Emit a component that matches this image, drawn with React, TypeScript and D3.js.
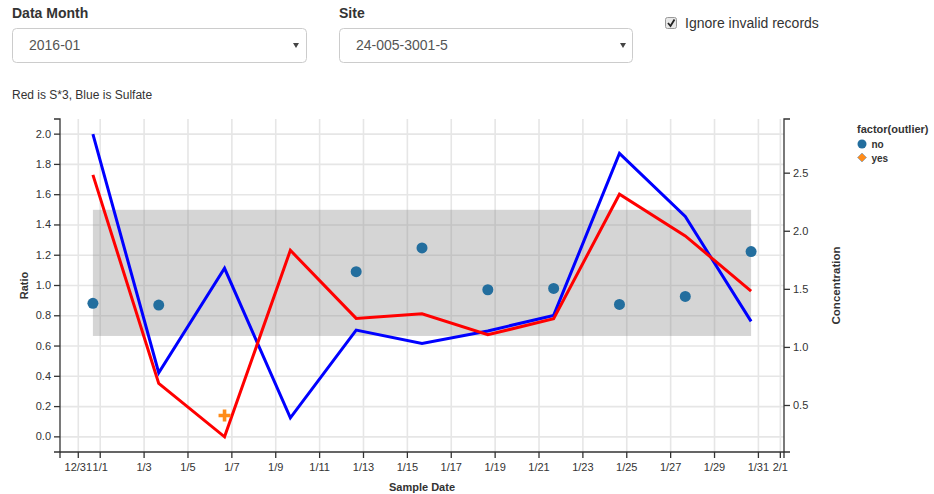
import React from "react";
import * as d3 from "d3";

const sampleDates = [
  "2015-12-31T16:00", "2016-01-03T16:00", "2016-01-06T16:00", "2016-01-09T16:00",
  "2016-01-12T16:00", "2016-01-15T16:00", "2016-01-18T16:00", "2016-01-21T16:00",
  "2016-01-24T16:00", "2016-01-27T16:00", "2016-01-30T16:00",
];
const sulfate = [2.836, 0.782, 1.681, 0.394, 1.149, 1.034, 1.142, 1.276, 2.67, 2.127, 1.224];
const sTimes3 = [2.485, 0.69, 0.23, 1.836, 1.25, 1.29, 1.109, 1.247, 2.319, 1.96, 1.485];
const ratio: (number | null)[] = [0.882, 0.871, 0.141, null, 1.091, 1.248, 0.972, 0.981, 0.875, 0.928, 1.224];
const outlier = ["no", "no", "yes", "no", "no", "no", "no", "no", "no", "no", "no"];
const bandRange = [2 / 3, 1.5];
const ratioDomain = [-0.1, 2.1];
const ratioTicks = [0, 0.2, 0.4, 0.6, 0.8, 1.0, 1.2, 1.4, 1.6, 1.8, 2.0];
const concTicks = [0.5, 1.0, 1.5, 2.0, 2.5];

const W = 934, H = 494;
const L = 60, R = 784, T = 119, B = 452;
const FONT = "'Liberation Sans', Arial, Helvetica, sans-serif";

export default function App() {
  const parse = d3.timeParse("%Y-%m-%dT%H:%M");
  const dates = sampleDates.map((s) => parse(s) as Date);
  const [d0, d1] = d3.extent(dates) as [Date, Date];
  const padX = (d1.getTime() - d0.getTime()) * 0.05;
  const x = d3.scaleTime()
    .domain([new Date(d0.getTime() - padX), new Date(d1.getTime() + padX)])
    .range([L, R]);
  const yL = d3.scaleLinear().domain(ratioDomain).range([B, T]);
  const allConc = [...sulfate, ...sTimes3];
  const cMin = d3.min(allConc)!, cMax = d3.max(allConc)!;
  const cPad = (cMax - cMin) * 0.05;
  const yR = d3.scaleLinear().domain([cMin - cPad, cMax + cPad]).range([B, T]);
  const xTicks = x.ticks(d3.timeDay.every(2)!);
  const fmt = d3.timeFormat("%-m/%-d");

  const line = (vals: number[]) =>
    d3.line<number>().x((_, i) => x(dates[i])).y((v) => yR(v))(vals) || "";

  const textColor = "#333";

  return (
    <svg width={W} height={H} style={{ position: "absolute", left: 0, top: 0, fontFamily: FONT }}>
      <rect width={W} height={H} fill="#fff" />
      {/* header controls */}
      <text x={12} y={17.5} fontSize={14} fontWeight="bold" fill="#333">Data Month</text>
      <rect x={12.5} y={28.5} width={294} height={34} rx={4} fill="#fff" stroke="#ccc" />
      <text x={29} y={50} fontSize={14} fill="#555">2016-01</text>
      <path d="M293,43 L299,43 L296,48 Z" fill="#444" />
      <text x={339} y={17.5} fontSize={14} fontWeight="bold" fill="#333">Site</text>
      <rect x={339.5} y={28.5} width={293} height={34} rx={4} fill="#fff" stroke="#ccc" />
      <text x={356} y={50} fontSize={14} fill="#555">24-005-3001-5</text>
      <path d="M620,43 L626,43 L623,48 Z" fill="#444" />
      <rect x={665.5} y={17.5} width={11} height={11} rx={2} fill="#e8e8e8" stroke="#999" />
      <path d="M668,23 L670.5,26 L674.5,19.5" fill="none" stroke="#222" strokeWidth={1.8} />
      <text x={685} y={27.5} fontSize={14} fill="#333">Ignore invalid records</text>
      <text x={12} y={99} fontSize={12} fill="#333">Red is S*3, Blue is Sulfate</text>

      {/* grid */}
      {ratioTicks.map((t) => (
        <line key={"h" + t} x1={L} x2={R} y1={yL(t)} y2={yL(t)} stroke="#e6e6e6" strokeWidth={1.6} />
      ))}
      {xTicks.map((t) => (
        <line key={"v" + t.getTime()} x1={x(t)} x2={x(t)} y1={T} y2={B} stroke="#e6e6e6" strokeWidth={1.6} />
      ))}

      {/* band */}
      <rect x={x(d0)} width={x(d1) - x(d0)} y={yL(bandRange[1])} height={yL(bandRange[0]) - yL(bandRange[1])}
        fill="#808080" fillOpacity={0.33} />

      {/* lines */}
      <path d={line(sulfate)} fill="none" stroke="#0000ff" strokeWidth={3} />
      <path d={line(sTimes3)} fill="none" stroke="#ff0000" strokeWidth={3} />

      {/* points */}
      {ratio.map((v, i) => {
        if (v === null) return null;
        const cx = x(dates[i]), cy = yL(v);
        if (outlier[i] === "yes") {
          return (
            <path key={i} d={`M${cx - 6},${cy} H${cx + 6} M${cx},${cy - 6} V${cy + 6}`}
              stroke="#ff8c1a" strokeWidth={3.6} fill="none" />
          );
        }
        return <circle key={i} cx={cx} cy={cy} r={5.5} fill="#236e9e" />;
      })}

      {/* left axis */}
      <path d={`M${L - 6},${T}H${L}V${B}H${L - 6}`} fill="none" stroke="#333" strokeWidth={1.3} />
      {ratioTicks.map((t) => (
        <g key={"lt" + t}>
          <line x1={L - 6} x2={L} y1={yL(t)} y2={yL(t)} stroke="#333" strokeWidth={1.3} />
          <text x={L - 9} y={yL(t)} dy="0.32em" textAnchor="end" fontSize={11} fill={textColor}>{t.toFixed(1)}</text>
        </g>
      ))}
      {/* right axis */}
      <path d={`M${R + 6},${T}H${R}V${B}H${R + 6}`} fill="none" stroke="#333" strokeWidth={1.3} />
      {concTicks.map((t) => (
        <g key={"rt" + t}>
          <line x1={R} x2={R + 6} y1={yR(t)} y2={yR(t)} stroke="#333" strokeWidth={1.3} />
          <text x={R + 9} y={yR(t)} dy="0.32em" textAnchor="start" fontSize={11} fill={textColor}>{t.toFixed(1)}</text>
        </g>
      ))}
      {/* bottom axis */}
      <path d={`M${L},${B + 6}V${B}H${R}V${B + 6}`} fill="none" stroke="#333" strokeWidth={1.3} />
      {xTicks.map((t) => (
        <g key={"xt" + t.getTime()}>
          <line x1={x(t)} x2={x(t)} y1={B} y2={B + 6} stroke="#333" strokeWidth={1.3} />
          <text x={x(t)} y={B + 19} textAnchor="middle" fontSize={11} fill={textColor}>{fmt(t)}</text>
        </g>
      ))}

      {/* axis titles */}
      <text x={(L + R) / 2} y={491} textAnchor="middle" fontSize={11} fontWeight="bold" fill="#333">Sample Date</text>
      <text transform={`translate(28,${(T + B) / 2}) rotate(-90)`} textAnchor="middle" fontSize={11} fontWeight="bold" fill="#333">Ratio</text>
      <text transform={`translate(840,${(T + B) / 2}) rotate(-90)`} textAnchor="middle" fontSize={11.5} fontWeight="bold" fill="#333">Concentration</text>

      {/* legend */}
      <text x={857} y={132.5} fontSize={11} fontWeight="bold" fill="#333">factor(outlier)</text>
      <circle cx={862} cy={144} r={4.5} fill="#236e9e" />
      <text x={871.5} y={147.5} fontSize={10} fontWeight="bold" fill="#333">no</text>
      <path d="M862,153 L866.5,157.5 L862,162 L857.5,157.5 Z" fill="#ff8c1a" stroke="#aaa" strokeWidth={1} />
      <text x={871.5} y={161.5} fontSize={10} fontWeight="bold" fill="#333">yes</text>
    </svg>
  );
}
